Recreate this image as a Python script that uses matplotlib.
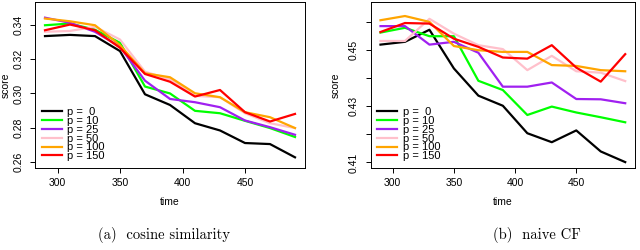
import matplotlib.pyplot as plt
import numpy as np

plt.rcParams["font.family"] = ["Liberation Sans", "DejaVu Sans"]

# data
time = [290, 310, 330, 350, 370, 390, 410, 430, 450, 470, 490]
labels = ["p =  0", "p = 10", "p = 25", "p = 50", "p = 100", "p = 150"]
colors = ["black", "#00ff00", "#a020f0", "#ffc0cb", "#ffa500", "#ff0000"]

cos_p0 = [0.3333, 0.3340, 0.3333, 0.3246, 0.2995, 0.2933, 0.2827, 0.2785, 0.2712, 0.2706, 0.2629]
cos_p10 = [0.3396, 0.3406, 0.3370, 0.3294, 0.3040, 0.3000, 0.2899, 0.2885, 0.2841, 0.2799, 0.2747]
cos_p25 = [0.3440, 0.3410, 0.3358, 0.3271, 0.3074, 0.2968, 0.2949, 0.2920, 0.2843, 0.2804, 0.2760]
cos_p50 = [0.3358, 0.3363, 0.3387, 0.3313, 0.3126, 0.3082, 0.2986, 0.2978, 0.2885, 0.2827, 0.2799]
cos_p100 = [0.3435, 0.3419, 0.3396, 0.3280, 0.3117, 0.3094, 0.3001, 0.2978, 0.2891, 0.2862, 0.2799]
cos_p150 = [0.3367, 0.3400, 0.3367, 0.3265, 0.3113, 0.3068, 0.2982, 0.3020, 0.2891, 0.2837, 0.2881]

cf_p0 = [0.4520, 0.4530, 0.4573, 0.4435, 0.4338, 0.4302, 0.4204, 0.4172, 0.4214, 0.4139, 0.4101]
cf_p10 = [0.4563, 0.4580, 0.4550, 0.4550, 0.4391, 0.4358, 0.4269, 0.4299, 0.4278, 0.4261, 0.4243]
cf_p25 = [0.4586, 0.4586, 0.4520, 0.4530, 0.4491, 0.4370, 0.4370, 0.4385, 0.4326, 0.4325, 0.4311]
cf_p50 = [0.4533, 0.4533, 0.4612, 0.4559, 0.4518, 0.4504, 0.4429, 0.4480, 0.4425, 0.4420, 0.4390]
cf_p100 = [0.4607, 0.4622, 0.4601, 0.4515, 0.4500, 0.4494, 0.4494, 0.4447, 0.4444, 0.4429, 0.4425]
cf_p150 = [0.4565, 0.4597, 0.4595, 0.4541, 0.4512, 0.4474, 0.4470, 0.4518, 0.4438, 0.4388, 0.4486]

cos_series = [cos_p0, cos_p10, cos_p25, cos_p50, cos_p100, cos_p150]
cf_series = [cf_p0, cf_p10, cf_p25, cf_p50, cf_p100, cf_p150]

cos_yticks = [0.26, 0.28, 0.30, 0.32, 0.34]
cf_yticks = [0.41, 0.42, 0.43, 0.44, 0.45, 0.46]
cf_yticklabels = ["0.41", "", "0.43", "", "0.45", ""]
xticks = [300, 350, 400, 450]

W, H = 640, 250
fig = plt.figure(figsize=(6.4, 2.5), dpi=100)
ax1 = fig.add_axes([35 / W, 1 - 168 / H, 270 / W, 166 / H])
ax2 = fig.add_axes([370.7 / W, 1 - 168 / H, 264.3 / W, 166 / H])


def draw(ax, series, yticks, yticklabels, ylim, ylabelpad):
    for s, c, lab in zip(series, colors, labels):
        ax.plot(time, s, color=c, linewidth=1.6, label=lab)
    ax.set_xlim(282, 498)
    ax.set_ylim(*ylim)
    ax.set_xticks(xticks)
    ax.set_yticks(yticks)
    ax.set_yticklabels(yticklabels, rotation=90, va="center")
    ax.tick_params(direction="out", length=3.5, width=0.7, labelsize=7.5)
    ax.tick_params(axis="x", pad=4)
    ax.tick_params(axis="y", pad=5)
    for sp in ax.spines.values():
        sp.set_linewidth(0.7)
    ax.set_xlabel("time", fontsize=7.5, labelpad=6)
    ax.set_ylabel("score", fontsize=7.5, labelpad=ylabelpad)
    ax.legend(loc="lower left", frameon=False, fontsize=8, handlelength=1.8,
              handletextpad=0.5, labelspacing=-0.1, borderaxespad=0.2,
              bbox_to_anchor=(0.0, 0.0))


draw(ax1, cos_series, cos_yticks, [f"{v:.2f}" for v in cos_yticks], (0.2567, 0.3531), 1.5)
draw(ax2, cf_series, cf_yticks, cf_yticklabels, (0.408, 0.4672), 6)

fig.text(164 / W, 1 - 235 / H, "(a)  cosine similarity", ha="center", va="center",
         fontsize=10.5, family="cmr10")
fig.text(537 / W, 1 - 235 / H, "(b)  naive CF", ha="center", va="center",
         fontsize=10.5, family="cmr10")

fig.savefig("out.png", dpi=100)
